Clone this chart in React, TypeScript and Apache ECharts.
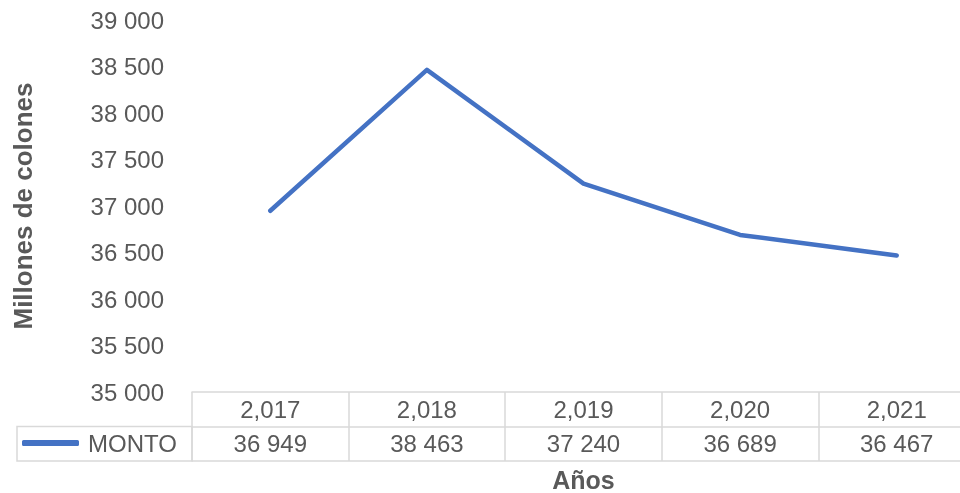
import React, { useEffect, useRef } from "react";
import * as echarts from "echarts";

const years = [2017, 2018, 2019, 2020, 2021];
const montos = [36949, 38463, 37240, 36689, 36467];
const seriesName = "MONTO";
const yMin = 35000;
const yMax = 39000;
const yStep = 500;

const FONT = "'Liberation Sans', Arial, sans-serif";
const GRAY = "#595959";
const BORDER = "#D9D9D9";
const BLUE = "#4472C4";

const spaceFmt = (v: number) => String(Math.round(v)).replace(/\B(?=(\d{3})+(?!\d))/g, " ");
const commaFmt = (v: number) => String(v).replace(/\B(?=(\d{3})+(?!\d))/g, ",");

export default function App() {
  const ref = useRef<HTMLDivElement>(null);
  useEffect(() => {
    if (!ref.current) return;
    const chart = echarts.init(ref.current, undefined, { renderer: "svg" });
    const left = 192;
    const top = 20;
    const bottom = 101;
    const rowH = 34.5;
    chart.setOption({
      animation: false,
      textStyle: { fontFamily: FONT },
      grid: { left, right: -15, top, bottom, containLabel: false, outerBoundsMode: "none" },
      legend: {
        data: [seriesName],
        left: 22,
        top: 431,
        padding: 0,
        icon: "roundRect",
        itemWidth: 57,
        itemHeight: 6,
        itemGap: 0,
        textStyle: { fontSize: 24, color: GRAY, fontFamily: FONT, lineHeight: 24, padding: [0, 0, 0, 4] },
      },
      xAxis: [
        {
          type: "category",
          data: years.map(commaFmt),
          position: "bottom",
          boundaryGap: true,
          axisLine: { show: true, lineStyle: { color: BORDER, width: 1.5 } },
          axisTick: { show: true, length: rowH * 2, alignWithLabel: false, lineStyle: { color: BORDER, width: 1.5 } },
          axisLabel: { fontSize: 24, color: GRAY, margin: rowH / 2, verticalAlign: "middle", fontFamily: FONT },
          splitLine: { show: false },
          name: "Años",
          nameLocation: "middle",
          nameGap: 75,
          nameTextStyle: { fontSize: 25, fontWeight: "bold", color: GRAY, fontFamily: FONT },
        },
        {
          type: "category",
          data: montos.map(spaceFmt),
          position: "bottom",
          offset: rowH,
          boundaryGap: true,
          axisLine: { show: true, lineStyle: { color: BORDER, width: 1.5 } },
          axisTick: { show: false },
          axisLabel: { fontSize: 24, color: GRAY, margin: rowH / 2, verticalAlign: "middle", fontFamily: FONT },
        },
        {
          type: "category",
          data: years.map(commaFmt),
          position: "bottom",
          offset: rowH * 2,
          boundaryGap: true,
          axisLine: { show: true, lineStyle: { color: BORDER, width: 1.5 } },
          axisTick: { show: false },
          axisLabel: { show: false },
        },
      ],
      yAxis: {
        type: "value",
        min: yMin,
        max: yMax,
        interval: yStep,
        axisLine: { show: false },
        axisTick: { show: false },
        splitLine: { show: false },
        axisLabel: { fontSize: 24, color: GRAY, margin: 28, formatter: (v: number) => spaceFmt(v), fontFamily: FONT },
        name: "Millones de colones",
        nameLocation: "middle",
        nameRotate: 90,
        nameGap: 156,
        nameTextStyle: { fontSize: 26, fontWeight: "bold", color: GRAY, fontFamily: FONT },
      },
      graphic: [
        {
          type: "rect",
          shape: { x: 17, y: 493 - bottom + rowH, width: left - 17, height: rowH },
          style: { fill: "none", stroke: BORDER, lineWidth: 1.5 },
          z: 1,
        },
      ],
      series: [
        {
          name: seriesName,
          type: "line",
          data: montos,
          xAxisIndex: 0,
          symbol: "none",
          color: BLUE,
          lineStyle: { color: BLUE, width: 4.5, cap: "round", join: "round" },
        },
      ],
    });
    return () => chart.dispose();
  }, []);
  return <div ref={ref} style={{ position: "fixed", left: 0, top: 0, width: 960, height: 493 }} />;
}
